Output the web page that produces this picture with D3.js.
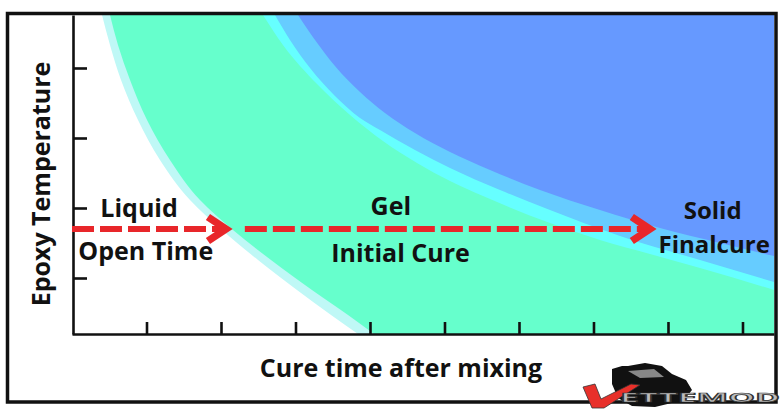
<!DOCTYPE html>
<html><head><meta charset="utf-8">
<script src="https://cdn.jsdelivr.net/npm/d3@7"></script>
<style>
body{margin:0;background:#fff;}
svg{display:block;}
text{font-family:"Open Sans",sans-serif;font-weight:700;fill:#111;}
</style>
</head><body>
<svg id="c" width="784" height="410"></svg>
<script>
// ---- data (x: cure time units, y: temperature units) ----
const xTicks = [1, 2, 3, 4, 5, 6, 7, 8, 9];
const yTicks = [0.8, 1.8, 2.8, 3.8];
const xMax = 9.423, yMax = 4.557;

// boundary: liquid -> start of gel (outer pale edge)
const liquidEdge = [[0.403,4.557],[0.510,4.129],[0.658,3.629],[0.886,3.057],[1.181,2.486],[1.584,1.914],[2.013,1.486],[2.497,1.057],[3.020,0.629],[3.477,0.271],[3.839,0]];
// boundary: pale transition -> gel
const gelEdge = [[0.510,4.557],[0.617,4.129],[0.779,3.629],[1.007,3.057],[1.315,2.486],[1.718,1.914],[2.161,1.486],[2.671,1.057],[3.221,0.629],[3.705,0.271],[4.054,0]];
// boundary: gel -> cyan transition
const gelOuter = [[2.564,4.557],[2.832,4.129],[3.289,3.571],[3.732,3.129],[4.174,2.757],[4.631,2.443],[5.074,2.186],[5.517,1.971],[6.416,1.586],[7.087,1.343],[7.758,1.143],[8.430,0.943],[9.423,0.629]];
// boundary: cyan -> light blue transition
const solidTransition = [[2.725,4.557],[2.926,4.200],[3.195,3.800],[3.530,3.400],[3.866,3.086],[4.134,2.914],[4.604,2.629],[5.074,2.371],[5.745,2.057],[6.416,1.771],[7.356,1.400],[8.430,1.057],[9.423,0.743]];
// boundary: light blue -> solid final cure
const solidEdge = [[3.034,4.557],[3.262,4.200],[3.530,3.829],[3.866,3.457],[4.201,3.157],[4.604,2.871],[5.074,2.600],[5.611,2.343],[6.282,2.057],[7.087,1.771],[7.893,1.514],[8.698,1.300],[9.423,1.114]];

const arrows = [
  {y: 1.5, x0: 0.0, x1: 2.12},
  {y: 1.5, x0: 2.32, x1: 7.81}
];
// each label: lines of text with their own centre and baseline
const labels = [
  {size: 25, lines: [{text: "Liquid", x: 0.90, y: 1.67}, {text: "Open Time", x: 0.99, y: 1.06}]},
  {size: 25, lines: [{text: "Gel", x: 4.28, y: 1.70}, {text: "Initial Cure", x: 4.41, y: 1.03}]},
  {size: 24, lines: [{text: "Solid", x: 8.60, y: 1.643}, {text: "Finalcure", x: 8.62, y: 1.157}]}
];

// ---- drawing ----
const svg = d3.select("#c");
const x = d3.scaleLinear().domain([0, xMax]).range([72, 774]);
const y = d3.scaleLinear().domain([0, yMax]).range([334, 15]);

svg.append("rect").attr("width",784).attr("height",410).attr("fill","#fff");

svg.append("clipPath").attr("id","plot").append("rect")
  .attr("x", x(0)).attr("y", y(yMax)).attr("width", x(xMax)-x(0)).attr("height", y(0)-y(yMax));

const lineY = d3.line().x(d=>x(d[0])).y(d=>y(d[1])).curve(d3.curveMonotoneY);
const lineX = d3.line().x(d=>x(d[0])).y(d=>y(d[1])).curve(d3.curveMonotoneX);
const g = svg.append("g").attr("clip-path","url(#plot)");

function regionToBottom(pts){ return lineY(pts) + `L${x(xMax)},${y(0)}L${x(xMax)},${y(yMax)}Z`; }
function regionToTop(pts){ return lineX(pts) + `L${x(xMax)},${y(yMax)}Z`; }

g.append("path").attr("d", regionToBottom(liquidEdge)).attr("fill","#bff8f6");
g.append("path").attr("d", regionToBottom(gelEdge)).attr("fill","#66ffcc");
g.append("path").attr("d", regionToTop(gelOuter)).attr("fill","#66ffff");
g.append("path").attr("d", regionToTop(solidTransition)).attr("fill","#66ccff");
g.append("path").attr("d", regionToTop(solidEdge)).attr("fill","#6699ff");

// axes
const gx = svg.append("g").attr("transform",`translate(0,${y(0)})`)
  .call(d3.axisBottom(x).tickValues(xTicks).tickSize(-12).tickSizeOuter(0).tickFormat(""));
const gy = svg.append("g").attr("transform",`translate(${x(0)+1},0)`)
  .call(d3.axisLeft(y).tickValues(yTicks).tickSize(-14).tickSizeOuter(0).tickFormat(""));
[gx, gy].forEach(a => a.selectAll("path,line").attr("stroke","#111").attr("stroke-width",2.6));

// arrows
const red = "#e8262a";
arrows.forEach(a => {
  svg.append("line")
    .attr("x1", x(a.x0)).attr("x2", x(a.x1) - 6)
    .attr("y1", y(a.y)).attr("y2", y(a.y))
    .attr("stroke", red).attr("stroke-width", 6)
    .attr("stroke-dasharray", "22,6");
  const tx = x(a.x1), ty = y(a.y);
  svg.append("path")
    .attr("d", `M${tx-22},${ty-12}L${tx-4},${ty}L${tx-22},${ty+12}`)
    .attr("fill","none").attr("stroke", red).attr("stroke-width", 7.5)
    .attr("stroke-linejoin","miter").attr("stroke-miterlimit", 10);
});

// labels (one text element per stage, one tspan per line)
labels.forEach(lb => {
  const t = svg.append("text").attr("text-anchor","middle").attr("font-size", lb.size);
  lb.lines.forEach(l => t.append("tspan").attr("x", x(l.x)).attr("y", y(l.y)).text(l.text));
});

// axis titles
svg.append("text").attr("x", 401).attr("y", 377).attr("text-anchor","middle")
  .attr("font-size", 25).text("Cure time after mixing");
svg.append("text").attr("transform","translate(50,184) rotate(-90)").attr("text-anchor","middle")
  .attr("font-size", 25).text("Epoxy Temperature");

// frame
svg.append("rect").attr("x",7.5).attr("y",13.5).attr("width",768.5).attr("height",388.5)
  .attr("fill","none").attr("stroke","#111").attr("stroke-width",3.5);

// watermark logo
const logo = svg.append("g");
logo.append("path")
  .attr("d","M612,369L622,366L628,366L645,363L662,366L672,374L686,380L692,390L684,400L655,407L632,406L618,398L612,384Z")
  .attr("fill","#111");
logo.append("path").attr("d","M628,371L654,369L664,377L640,378Z").attr("fill","#888");
logo.append("path")
  .attr("d","M583,387L595,384L601,399L631,384L640,385L604,408L592,408Z")
  .attr("fill","#e8302a").attr("stroke","#333").attr("stroke-width",0.8);
logo.append("text").attr("x",620).attr("y",402).attr("font-size",12)
  .attr("textLength",160).attr("lengthAdjust","spacingAndGlyphs")
  .style("fill","#bbb").attr("stroke","#333").attr("stroke-width",0.7)
  .text("ETTEMOD");
</script>
</body></html>
